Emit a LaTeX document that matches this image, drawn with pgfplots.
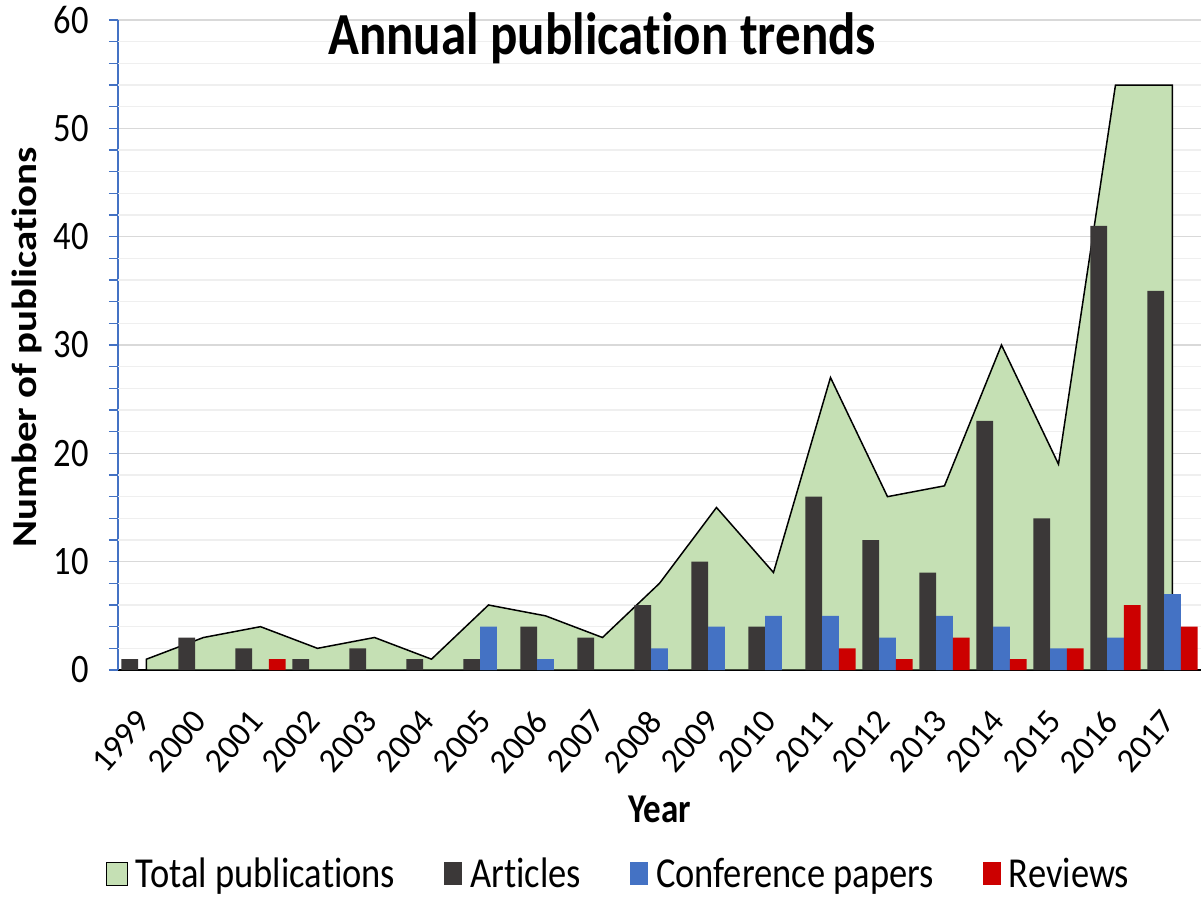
\documentclass[border=0pt]{standalone}
\usepackage{fontspec}
\setmainfont{Carlito}[Ligatures=NoCommon]
\usepackage{graphicx}
\usepackage{pgfplots}
\pgfplotsset{compat=1.18}

\definecolor{totalgreen}{HTML}{C5E0B4}
\definecolor{articles}{HTML}{3B3838}
\definecolor{confpapers}{HTML}{4472C4}
\definecolor{reviews}{HTML}{CC0000}
\definecolor{axisblue}{HTML}{4472C4}
\definecolor{majorgrid}{HTML}{D9D9D9}
\definecolor{minorgrid}{HTML}{EFEFEF}

% the reference text is a little taller than it is wide
\newcommand\vs[1]{\scalebox{1}[1.17]{#1}}
\newcommand\yr[1]{\rotatebox{49}{#1}}

\begin{document}
\begin{tikzpicture}
\useasboundingbox (-118pt,-228pt) rectangle (1085pt,670pt);
\begin{axis}[
    scale only axis,
    width=1083pt, height=650pt,
    xmin=-0.5, xmax=18.5,
    ymin=0, ymax=60,
    axis x line*=bottom,
    axis y line*=left,
    x axis line style={-, black, line width=2pt},
    y axis line style={-, axisblue, line width=1.5pt},
    tick align=outside,
    xtick={0,1,...,18},
    xticklabels={\yr{1999},\yr{2000},\yr{2001},\yr{2002},\yr{2003},\yr{2004},\yr{2005},
        \yr{2006},\yr{2007},\yr{2008},\yr{2009},\yr{2010},\yr{2011},\yr{2012},\yr{2013},
        \yr{2014},\yr{2015},\yr{2016},\yr{2017}},
    xtick style={black, line width=1.5pt, /pgfplots/major tick length=0pt},
    xticklabel style={inner sep=0pt, anchor=north east, xshift=5pt, yshift=-34pt,
        font=\fontsize{34}{40}\selectfont},
    extra x ticks={-0.5,0.5,...,18.5},
    extra x tick labels={},
    extra x tick style={/pgfplots/major tick length=12pt},
    ytick={0,10,...,60},
    yticklabel={\vs{\pgfmathprintnumber{\tick}}},
    ytick style={axisblue, line width=1.5pt, /pgfplots/major tick length=9pt},
    yticklabel style={inner sep=0pt, xshift=-25pt, font=\fontsize{34.5}{40}\selectfont},
    /pgf/number format/assume math mode=true,
    extra y ticks={2,4,6,8,12,14,16,18,22,24,26,28,32,34,36,38,42,44,46,48,52,54,56,58},
    extra y tick labels={},
    extra y tick style={/pgfplots/major tick length=0pt,
        major grid style={minorgrid, line width=1.5pt}},
    ymajorgrids=true,
    major grid style={majorgrid, line width=1.5pt},
    title={\vs{Annual publication trends}},
    title style={at={(axis description cs:0.447,0.938)}, anchor=base,
        font=\fontsize{51}{60}\selectfont\bfseries},
    xlabel={\vs{Year}},
    xlabel style={at={(axis description cs:0.5,-0.215)}, anchor=center,
        font=\fontsize{35}{42}\selectfont\bfseries},
    ylabel={\scalebox{1.17}[1]{Number of publications}},
    ylabel style={at={(axis description cs:-0.084,0.497)}, anchor=center,
        font=\fontsize{35}{42}\selectfont\bfseries},
    legend columns=4,
    legend style={draw=none, at={(0.462,-0.313)}, anchor=center,
        font=\fontsize{36.5}{42}\selectfont,
        /tikz/every odd column/.append style={column sep=6pt},
        /tikz/every even column/.append style={column sep=47pt}},
]

% total publications per year (area)
\addplot[fill=totalgreen, draw=black, line width=1.5pt,
    legend image code/.code={\draw[fill=totalgreen, draw=black, line width=1.2pt] (0pt,-12pt) rectangle (21pt,11pt);}]
coordinates {
    (0,1) (1,3) (2,4) (3,2) (4,3) (5,1) (6,6) (7,5) (8,3) (9,8)
    (10,15) (11,9) (12,27) (13,16) (14,17) (15,30) (16,19) (17,54) (18,54)
} \closedcycle;

% articles
\addplot[ybar, bar width=0.295, bar shift=-0.295, fill=articles, draw=none,
    legend image code/.code={\fill[articles] (0pt,-12pt) rectangle (18pt,11pt);}]
coordinates {
    (0,1) (1,3) (2,2) (3,1) (4,2) (5,1) (6,1) (7,4) (8,3) (9,6)
    (10,10) (11,4) (12,16) (13,12) (14,9) (15,23) (16,14) (17,41) (18,35)
};

% conference papers
\addplot[ybar, bar width=0.295, bar shift=0, fill=confpapers, draw=none,
    legend image code/.code={\fill[confpapers] (0pt,-12pt) rectangle (18pt,11pt);}]
coordinates {
    (6,4) (7,1) (9,2) (10,4) (11,5) (12,5) (13,3) (14,5) (15,4) (16,2) (17,3) (18,7)
};

% reviews
\addplot[ybar, bar width=0.295, bar shift=0.295, fill=reviews, draw=none,
    legend image code/.code={\fill[reviews] (0pt,-12pt) rectangle (18pt,11pt);}]
coordinates {
    (2,1) (12,2) (13,1) (14,3) (15,1) (16,2) (17,6) (18,4)
};

\legend{\vs{Total publications}, \vs{Articles}, \vs{Conference papers}, \vs{Reviews}}
\end{axis}
\end{tikzpicture}
\end{document}
